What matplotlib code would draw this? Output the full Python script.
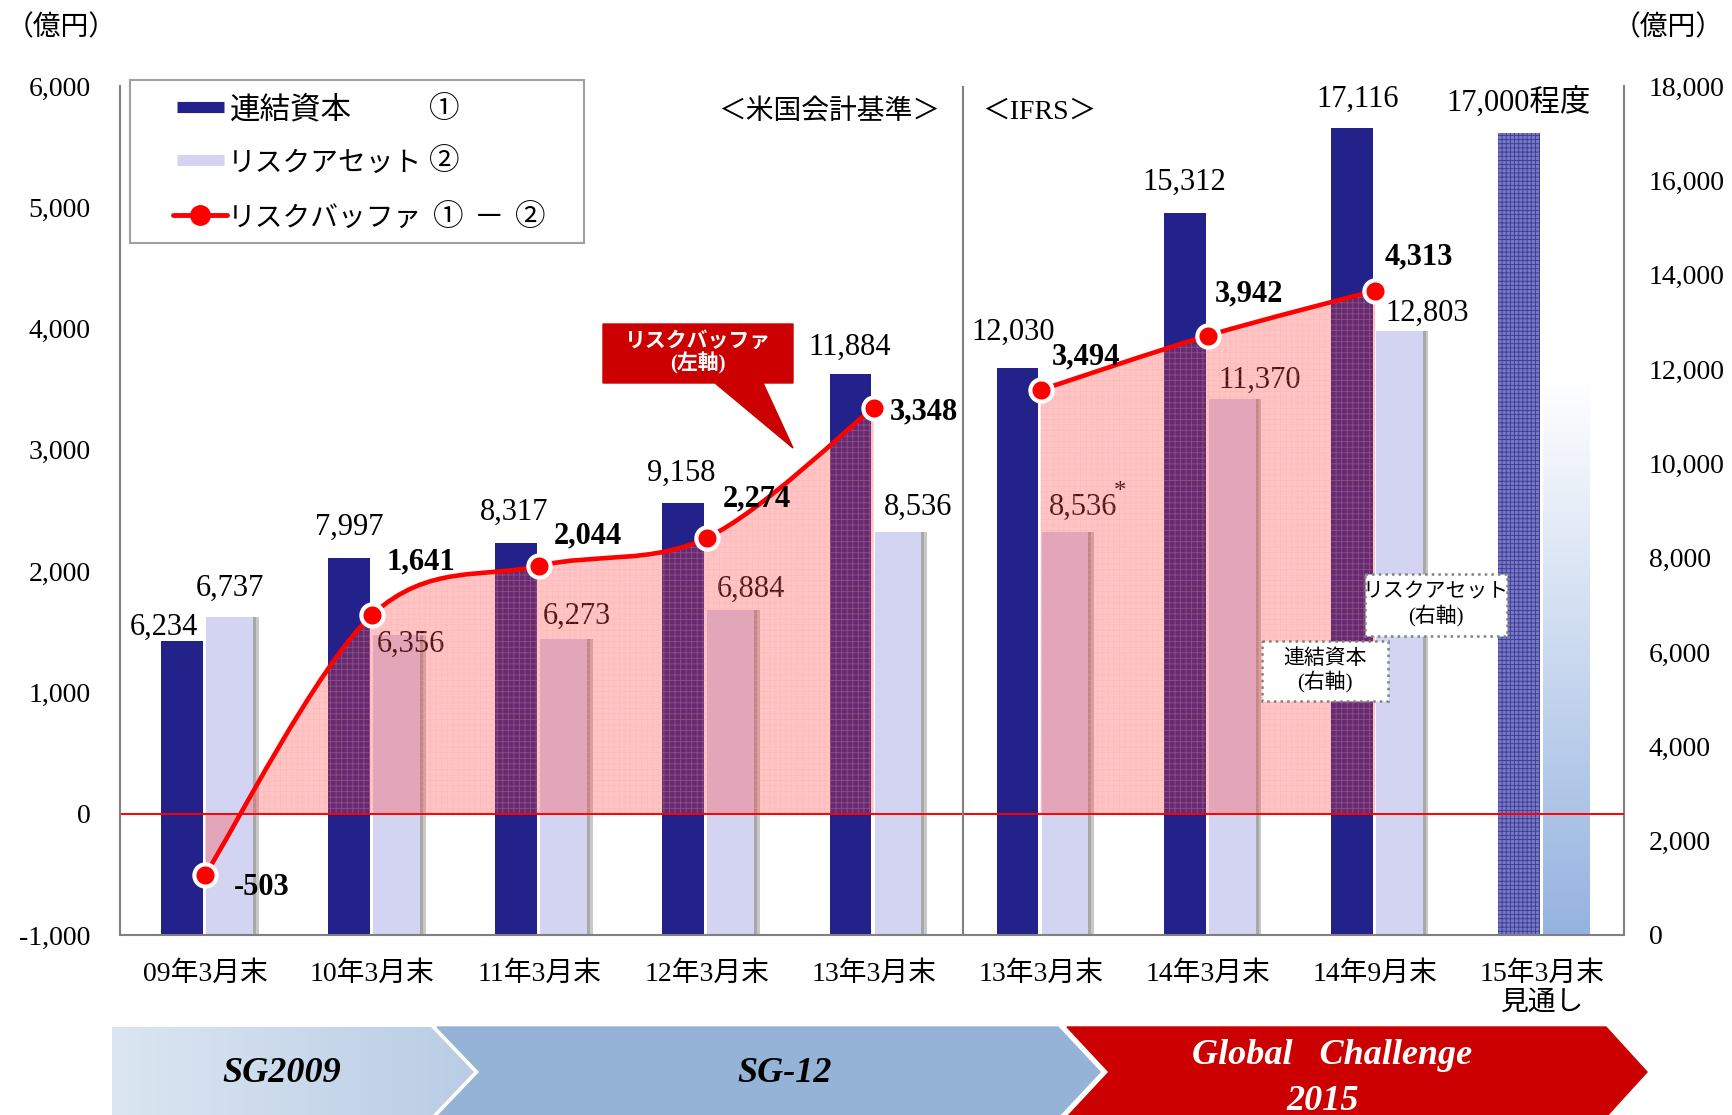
import numpy as np
import matplotlib
matplotlib.use('Agg')
import matplotlib.pyplot as plt
from matplotlib.path import Path
from matplotlib.patches import PathPatch, Polygon, Rectangle
from matplotlib.colors import LinearSegmentedColormap

plt.rcParams['font.family'] = ['Liberation Serif', 'Noto Sans CJK JP']
plt.rcParams['hatch.linewidth'] = 0.6

# data
categories = ['09年3月末', '10年3月末', '11年3月末', '12年3月末', '13年3月末',
              '13年3月末', '14年3月末', '14年9月末', '15年3月末\n見通し']
capital = [6234, 7997, 8317, 9158, 11884, 12030, 15312, 17116, 17000]
capital_labels = ['6,234', '7,997', '8,317', '9,158', '11,884', '12,030',
                  '15,312', '17,116', '17,000程度']
risk_assets = [6737, 6356, 6273, 6884, 8536, 8536, 11370, 12803]
risk_asset_forecast_top = 11750   # faded bar, no label
buffer_us = [-503, 1641, 2044, 2274, 3348]
buffer_ifrs = [3494, 3942, 4313]

W, H = 1733, 1115
NAVY = '#22228A'
LAVENDER = '#D3D3F2'


def smooth_path(xs, ys):
    # Catmull-Rom style bezier through the points (like a smoothed office line)
    pts = np.column_stack([xs, ys]).astype(float)
    n = len(pts)
    verts = [pts[0]]
    codes = [Path.MOVETO]
    for i in range(n - 1):
        p0 = pts[max(i - 1, 0)]
        p1 = pts[i]
        p2 = pts[i + 1]
        p3 = pts[min(i + 2, n - 1)]
        verts += [p1 + (p2 - p0) / 6, p2 - (p3 - p1) / 6, p2]
        codes += [Path.CURVE4] * 3
    return verts, codes


fig = plt.figure(figsize=(W / 100, H / 100), dpi=100)
ax = fig.add_axes([120 / W, 1 - 935 / H, 1504 / W, 849 / H])
ax2 = ax.twinx()
ax.set_zorder(3)
ax.patch.set_visible(False)

x = np.arange(len(categories))
n_ra = len(risk_assets)

# bars on the right axis
ax2.bar(x[:8] - 0.139, capital[:8], width=0.25, color=NAVY, zorder=3)
ax2.bar(x[8] - 0.139, capital[8], width=0.25, color='#7878C0', hatch='++++',
        edgecolor='#3A3A98', linewidth=0, zorder=3)
ax2.bar(x[:n_ra] + 0.145 + 0.035, risk_assets, width=0.28, color='#C8C8C8', zorder=2)
ax2.bar(x[:n_ra] + 0.145 + 0.018, risk_assets, width=0.28, color='#A8A8A8', zorder=2)
ax2.bar(x[:n_ra] + 0.145, risk_assets, width=0.28, color=LAVENDER, zorder=3)
grad = np.linspace(1, 0, 256).reshape(-1, 1)
cmap = LinearSegmentedColormap.from_list('fade', ['#FFFFFF', '#95B3E0'])
ax2.imshow(grad, extent=[x[8] + 0.005, x[8] + 0.285, 0, risk_asset_forecast_top],
           aspect='auto', cmap=cmap, origin='lower', zorder=3)

# bar value labels (under the red overlay, so inside ones get tinted)
cap_off = [(-18, 14), (0, 30), (-2, 30), (-2, 30), (-1, 27), (-4, 35), (0, 30), (6, 28), (0, 31)]
for i, v in enumerate(capital):
    ax2.annotate(capital_labels[i], (x[i] - 0.139, v), xytext=cap_off[i],
                 textcoords='offset pixels', ha='center', va='center',
                 fontsize=22, zorder=4)
ra_off = [(0, 29), (14, -9), (13, 23), (20, 21), (20, 25), (18, 25), (28, 18), (28, 18)]
for i, v in enumerate(risk_assets):
    ax2.annotate(f'{v:,}', (x[i] + 0.145, v), xytext=ra_off[i],
                 textcoords='offset pixels', ha='center', va='center',
                 fontsize=22, zorder=4)
ax2.annotate('*', (x[5] + 0.145, risk_assets[5]), xytext=(55, 40),
             textcoords='offset pixels', ha='center', va='center', fontsize=18, zorder=4)

# risk buffer on the left axis
for xs, ys in [(x[:5], buffer_us), (x[5:8], buffer_ifrs)]:
    verts, codes = smooth_path(xs, ys)
    fverts = verts + [(xs[-1], 0), (xs[0], 0), (xs[0], ys[0])]
    fcodes = codes + [Path.LINETO, Path.LINETO, Path.CLOSEPOLY]
    ax.add_patch(PathPatch(Path(fverts, fcodes), facecolor='#FF4040', alpha=0.3,
                           edgecolor='#FFA0A0', hatch='+++', linewidth=0, zorder=1))
    ax.add_patch(PathPatch(Path(verts, codes), fill=False, edgecolor='#FF0000',
                           linewidth=3.3, zorder=4, capstyle='round'))
    ax.plot(xs, ys, 'o', color='#FF0000', markersize=16, markeredgecolor='white',
            markeredgewidth=3, zorder=5)

buf = buffer_us + buffer_ifrs
buf_x = list(x[:5]) + list(x[5:8])
buf_off = [(56, -13), (49, 53), (48, 30), (50, 39), (50, -4), (45, 33), (41, 42), (44, 34)]
for i, v in enumerate(buf):
    ax.annotate(f'{v:,}', (buf_x[i], v), xytext=buf_off[i], textcoords='offset pixels',
                ha='center', va='center', fontsize=22, fontweight='bold', zorder=6)

ax.axhline(0, color='#FF0000', linewidth=1.4, zorder=2)
ax.axvline(4.535, color='#808080', linewidth=1.5, zorder=2)

# axes
ax.set_xlim(-0.51, 8.49)
ax.set_ylim(-1000, 6000)
ax2.set_ylim(0, 18000)
ax.set_yticks(range(-1000, 6001, 1000))
ax.set_yticklabels([f'{t:,}' for t in range(-1000, 6001, 1000)])
ax2.set_yticks(range(0, 18001, 2000))
ax2.set_yticklabels([f'{t:,}' for t in range(0, 18001, 2000)])
ax.set_xticks(x)
ax.set_xticklabels(categories)
ax.tick_params(axis='y', length=0, pad=21, labelsize=20)
ax.tick_params(axis='x', length=0, pad=19, labelsize=20)
ax2.tick_params(axis='y', length=0, pad=18, labelsize=20)
for s in ['top', 'right']:
    ax.spines[s].set_visible(False)
for s in ['top', 'left', 'bottom']:
    ax2.spines[s].set_visible(False)
for sp in [ax.spines['left'], ax.spines['bottom'], ax2.spines['right']]:
    sp.set_color('#808080')
    sp.set_linewidth(1.5)

# overlay for legend, texts and shapes in pixel coordinates
ov = fig.add_axes([0, 0, 1, 1])
ov.axis('off')
ov.patch.set_visible(False)
ov.set_zorder(10)

# legend drawn by hand
ov.add_patch(Rectangle((130, 80), 454, 163, facecolor='white', edgecolor='#A0A0A0',
                       linewidth=1.5))
ov.plot([177, 224], [107, 107], color=NAVY, linewidth=8, solid_capstyle='butt')
ov.plot([177, 224], [160, 160], color=LAVENDER, linewidth=8, solid_capstyle='butt')
ov.plot([173, 227], [215, 215], color='#FF0000', linewidth=3.5, solid_capstyle='round')
ov.plot([200], [215], 'o', color='#FF0000', markersize=14)
ov.text(230, 111, '連結資本', ha='left', va='center', fontsize=22)
ov.text(228, 164, 'リスクアセット', ha='left', va='center', fontsize=20)
ov.text(228, 219, 'リスクバッファ', ha='left', va='center', fontsize=20)
ov.text(444, 110, '①', ha='center', va='center', fontsize=22)
ov.text(444, 163, '②', ha='center', va='center', fontsize=22)
ov.text(448, 218, '①', ha='center', va='center', fontsize=22)
ov.text(489, 218, '－', ha='center', va='center', fontsize=22)
ov.text(530, 218, '②', ha='center', va='center', fontsize=22)

ov.text(61, 28, '（億円）', ha='center', va='center', fontsize=20)
ov.text(1668, 28, '（億円）', ha='center', va='center', fontsize=20)
ov.text(829, 112, '＜米国会計基準＞', ha='center', va='center', fontsize=20)
ov.text(1039, 112, '＜IFRS＞', ha='center', va='center', fontsize=20)

# callout
ov.add_patch(Polygon([(603, 324), (793, 324), (793, 383), (763, 383), (793, 448),
                      (715, 383), (603, 383)], closed=True, color='#CC0000'))
ov.text(698, 353, 'リスクバッファ\n(左軸)', ha='center', va='center', fontsize=15,
        color='white', fontweight='bold', linespacing=1.05)

# dotted note boxes
ov.add_patch(Rectangle((1262, 641), 126, 60, facecolor='white', edgecolor='#808080',
                       linestyle=':', linewidth=1.8))
ov.text(1325, 671, '連結資本\n(右軸)', ha='center', va='center', fontsize=15,
        linespacing=1.1)
ov.add_patch(Rectangle((1365, 574), 142, 62, facecolor='white', edgecolor='#808080',
                       linestyle=':', linewidth=1.8))
ov.text(1436, 605, 'リスクアセット\n(右軸)', ha='center', va='center', fontsize=15,
        linespacing=1.1)

# plan chevrons along the bottom
c1 = Polygon([(112, 1027), (431, 1027), (474, 1072), (431, 1117), (112, 1117)],
             closed=True, facecolor='none', edgecolor='none')
ov.add_patch(c1)
hgrad = np.linspace(0, 1, 256).reshape(1, -1)
gcmap = LinearSegmentedColormap.from_list('sg', ['#DCE6F2', '#B9CDE5'])
im = ov.imshow(hgrad, extent=[112, 474, 1117, 1027], aspect='auto', cmap=gcmap)
im.set_clip_path(c1)
ov.add_patch(Polygon([(437, 1027), (1058, 1027), (1100, 1072), (1058, 1117),
                      (437, 1117), (480, 1072)], closed=True, color='#95B3D7'))
ov.add_patch(Polygon([(1067, 1027), (1606, 1027), (1647, 1072), (1606, 1117),
                      (1067, 1117), (1109, 1072)], closed=True, color='#CC0000'))
ov.text(282, 1073, 'SG2009', ha='center', va='center', fontsize=26,
        fontweight='bold', fontstyle='italic')
ov.text(785, 1073, 'SG-12', ha='center', va='center', fontsize=26,
        fontweight='bold', fontstyle='italic')
ov.text(1332, 1055, 'Global   Challenge', ha='center', va='center', fontsize=26,
        fontweight='bold', fontstyle='italic', color='white')
ov.text(1323, 1101, '2015', ha='center', va='center', fontsize=26,
        fontweight='bold', fontstyle='italic', color='white')

ov.set_xlim(0, W)
ov.set_ylim(H, 0)

fig.savefig('out.png', dpi=100)
